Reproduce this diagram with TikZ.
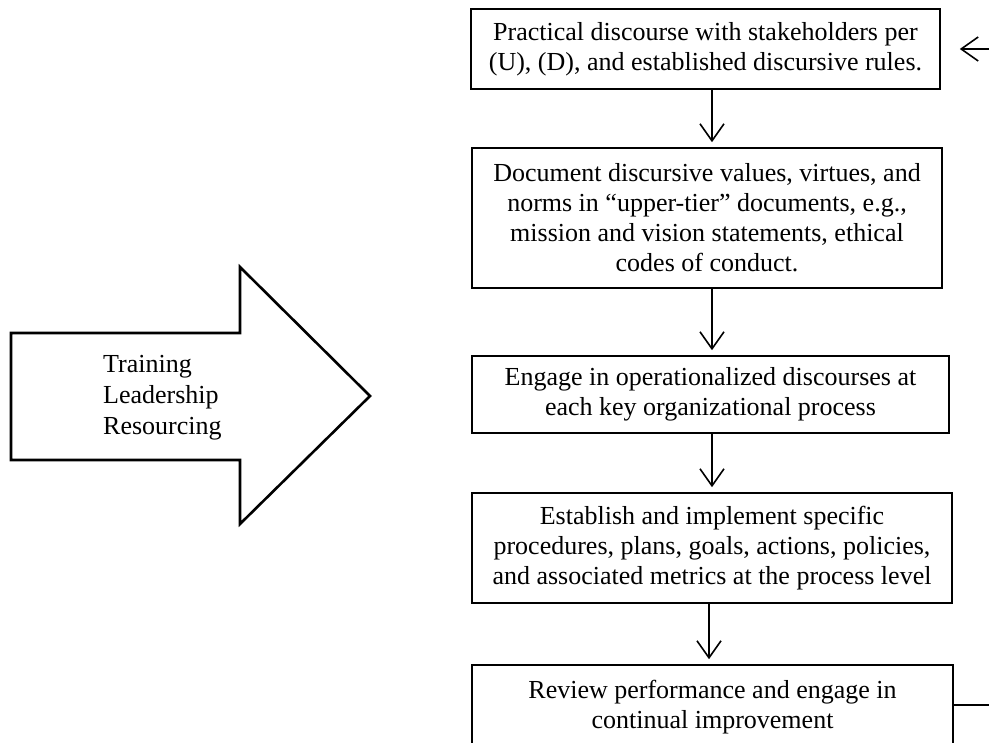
\documentclass[tikz,border=0pt]{standalone}
\usepackage{fontspec}
\setmainfont{Liberation Serif}
\usetikzlibrary{arrows.meta}

\tikzset{
  stage/.style={draw, line width=1.6pt, align=center, inner sep=0pt,
    font=\fontsize{26}{30}\selectfont},
  flow/.style={line width=1.6pt, ->},
  >={Straight Barb[length=17pt,width=24pt,line width=1.6pt]}
}

\begin{document}
\begin{tikzpicture}[x=1pt, y=-1pt]
	\useasboundingbox (0,0) rectangle (989,743);
	\clip (0,0) rectangle (989,743);
	% big arrow on the left
	\draw[line width=2.6pt, line join=miter] (11,333) -- (240,333) -- (240,267) -- (370,396) -- (240,524) -- (240,460) -- (11,460) -- cycle;
	\node[anchor=west, align=left, inner sep=0pt, font=\fontsize{26}{31}\selectfont] (drivers) at (103,398) {Training\\Leadership\\Resourcing};
	% process boxes
	\node[stage, minimum width=469pt, minimum height=80pt] (b1) at (705.5,49) {Practical discourse with stakeholders per\\(U), (D), and established discursive rules.};
	\node[stage, minimum width=470pt, minimum height=140pt] (b2) at (707,218) {Document discursive values, virtues, and\\norms in ``upper-tier'' documents, e.g.,\\mission and vision statements, ethical\\codes of conduct.};
	\node[stage, minimum width=477pt, minimum height=77pt] (b3) at (710.5,394.5) {Engage in operationalized discourses at\\each key organizational process};
	\node[stage, minimum width=480pt, minimum height=110pt] (b4) at (712,548) {Establish and implement specific\\procedures, plans, goals, actions, policies,\\and associated metrics at the process level};
	\node[stage, minimum width=481pt, minimum height=84pt] (b5) at (712.5,707) {Review performance and engage in\\continual improvement};
	% connectors
	\coordinate (ax) at (712,0);
	\coordinate (bx) at (709,0);
	\draw[flow] (b1.south -| ax) -- ([yshift=5pt]b2.north -| ax);
	\draw[flow] (b2.south -| ax) -- ([yshift=5pt]b3.north -| ax);
	\draw[flow] (b3.south -| ax) -- ([yshift=5pt]b4.north -| ax);
	\draw[flow] (b4.south -| bx) -- ([yshift=5pt]b5.north -| bx);
	% feedback loop (cut off at the right edge)
	\coordinate (loopout) at (989,705);
	\coordinate (loopin) at (989,49);
	\draw[line width=1.6pt] (b5.east |- loopout) -- (loopout);
	\draw[flow] (loopin) -- ([xshift=19pt]b1.east |- loopin);
\end{tikzpicture}
\end{document}
